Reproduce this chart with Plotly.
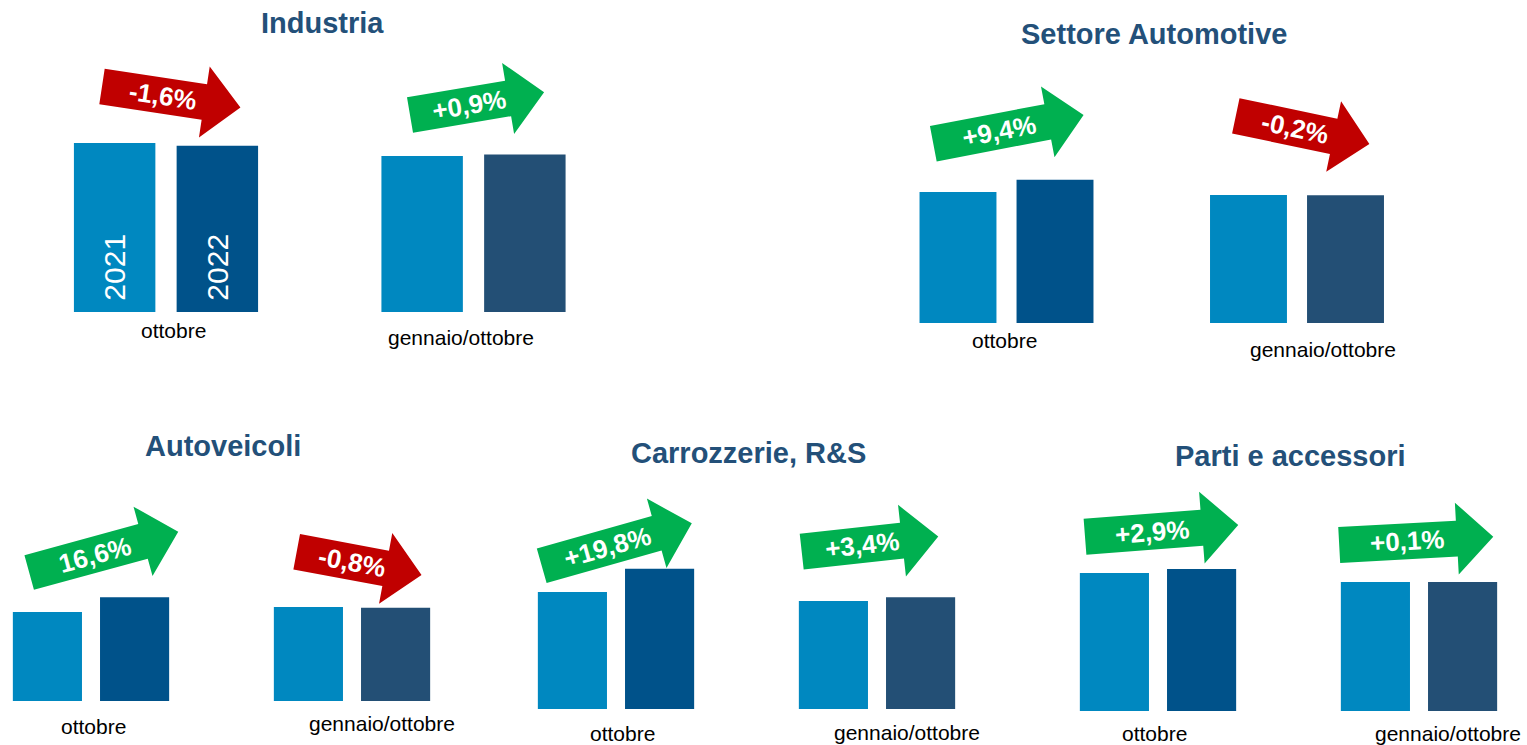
import math
import plotly.graph_objects as go

# ---------------- data ----------------
panel_titles = ["Industria", "Settore Automotive", "Autoveicoli",
                "Carrozzerie, R&S", "Parti e accessori"]
periods = ["ottobre", "gennaio/ottobre"]
years = ["2021", "2022"]
# bar heights (relative units)
values_2021 = [[169.0, 156.0], [131.0, 128.0], [89.0, 94.0], [117.0, 108.0], [138.0, 129.0]]
values_2022 = [[166.3, 157.4], [143.3, 127.7], [103.8, 93.2], [140.2, 111.7], [142.0, 129.1]]
pct_labels = [["-1,6%", "+0,9%"], ["+9,4%", "-0,2%"], ["16,6%", "-0,8%"],
              ["+19,8%", "+3,4%"], ["+2,9%", "+0,1%"]]

# ---------------- styles / layout (pixels) ----------------
W, H = 1527, 745
C2021 = "#0088C0"
C2022 = ["#00528A", "#234F75"]
GREEN, RED = "#00B050", "#C00000"
TITLE_COLOR = "#235079"
FONT = "Liberation Sans, Arial, sans-serif"

# group centres, baseline, title centre
panels = [
    dict(c0=166.0, c1=473.5, base=312, title=(322, 22.5)),
    dict(c0=1006.5, c1=1297.0, base=323, title=(1154, 34)),
    dict(c0=91.0, c1=352.0, base=701, title=(222.5, 445.5)),
    dict(c0=616.0, c1=877.0, base=709, title=(748.5, 453)),
    dict(c0=1158.0, c1=1419.0, base=711, title=(1290, 456)),
]
# category label (x shift from group centre, y centre) per period
label_pos = [
    [(7, 330), (-12.5, 337)],
    [(-2.5, 340), (26, 349)],
    [(2, 726), (30, 723)],
    [(6, 733), (30, 732)],
    [(-4, 733), (29, 733)],
]
# arrows: tail centre x, y, length, angle (deg, clockwise)
arrows = [
    [(102, 86.5, 140, 8.6), (410, 115, 136, -9.6)],
    [(933.3, 143.7, 153, -10.8), (1235.8, 115.8, 136.5, 11.9)],
    [(29.2, 572.5, 154.5, -15.3), (296.7, 551.7, 127, 10.6)],
    [(541.7, 565.8, 156, -15.8), (801.7, 551.7, 137.4, -6.3)],
    [(1085, 536.7, 153.7, -4.4), (1339.2, 545, 154.3, -3.1)],
]
SHAFT_W, HEAD_W, HEAD_L = 36, 72, 36.5
PANEL_H = 200.0


def px(x):
    return x / W


def py(y):
    return 1 - y / H


fig = go.Figure()
layout_axes = {}
annotations = []
shapes = []

for i, p in enumerate(panels):
    n = "" if i == 0 else str(i + 1)
    sp = p["c1"] - p["c0"]
    left, right = p["c0"] - 0.32 * sp, p["c1"] + 0.32 * sp
    layout_axes["xaxis" + n] = dict(domain=[px(left), px(right)], range=[-0.32, 1.32],
                                    visible=False, anchor="y" + n, type="category")
    layout_axes["yaxis" + n] = dict(domain=[py(p["base"]), py(p["base"] - PANEL_H)],
                                    range=[0, PANEL_H], visible=False, anchor="x" + n)
    fig.add_trace(go.Bar(
        x=periods, y=values_2021[i], name=years[0], xaxis="x" + n, yaxis="y" + n,
        marker=dict(color=C2021, line=dict(width=0)), showlegend=False,
        text=[" " + years[0], ""] if i == 0 else None,
        textposition="inside", insidetextanchor="start", textangle=-90,
        insidetextfont=dict(family=FONT, size=30, color="white"),
    ))
    fig.add_trace(go.Bar(
        x=periods, y=values_2022[i], name=years[1], xaxis="x" + n, yaxis="y" + n,
        marker=dict(color=C2022, line=dict(width=0)), showlegend=False,
        text=[" " + years[1], ""] if i == 0 else None,
        textposition="inside", insidetextanchor="start", textangle=-90,
        insidetextfont=dict(family=FONT, size=30, color="white"),
    ))
    # title
    tx, ty = p["title"]
    annotations.append(dict(text=panel_titles[i], x=px(tx), y=py(ty), xref="paper", yref="paper",
                            xanchor="center", yanchor="middle", showarrow=False,
                            font=dict(family=FONT, size=29, color=TITLE_COLOR, weight="bold")))
    for j, per in enumerate(periods):
        dx, ly = label_pos[i][j]
        annotations.append(dict(text=per, x=per, xref="x" + n, y=py(ly), yref="paper",
                                xshift=dx, xanchor="center", yanchor="middle", showarrow=False,
                                font=dict(family=FONT, size=21, color="black")))
        # arrow
        ax, ay, L, ang = arrows[i][j]
        label = pct_labels[i][j]
        col = RED if label.startswith("-") else GREEN
        t = math.radians(ang)
        ct, st = math.cos(t), math.sin(t)
        loc = [(0, -SHAFT_W / 2), (L - HEAD_L, -SHAFT_W / 2), (L - HEAD_L, -HEAD_W / 2), (L, 0),
               (L - HEAD_L, HEAD_W / 2), (L - HEAD_L, SHAFT_W / 2), (0, SHAFT_W / 2)]
        pts = [(ax + u * ct - v * st, ay + u * st + v * ct) for u, v in loc]
        path = "M " + " L ".join(f"{px(x):.5f},{py(y):.5f}" for x, y in pts) + " Z"
        shapes.append(dict(type="path", path=path, xref="paper", yref="paper",
                           fillcolor=col, line=dict(width=0), layer="above"))
        cx, cy = ax + 0.44 * L * ct, ay + 0.44 * L * st
        annotations.append(dict(text=label, x=px(cx), y=py(cy), xref="paper", yref="paper",
                                xanchor="center", yanchor="middle", showarrow=False,
                                textangle=ang,
                                font=dict(family=FONT, size=26, color="white", weight="bold")))

fig.update_layout(
    width=W, height=H, margin=dict(l=0, r=0, t=0, b=0),
    paper_bgcolor="white", plot_bgcolor="white",
    barmode="group", bargap=0.332, bargroupgap=0.207,
    shapes=shapes, annotations=annotations,
    **layout_axes,
)

fig.write_html("out.html", config={"displayModeBar": False},
               post_script="document.body.style.margin='0';document.body.style.overflow='hidden';")
